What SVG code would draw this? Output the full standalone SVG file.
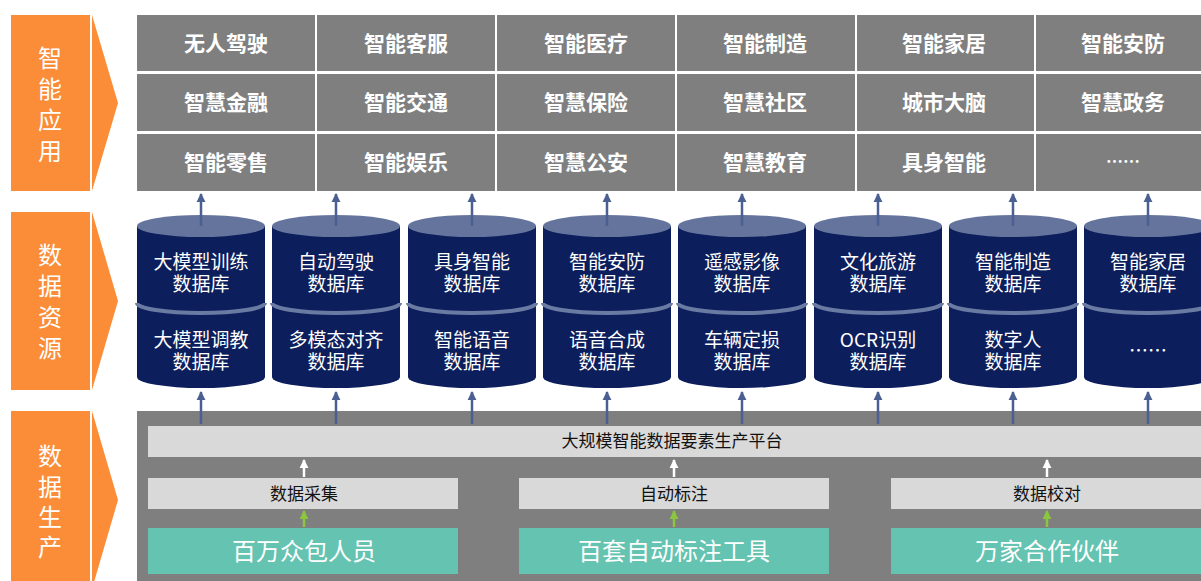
<svg xmlns="http://www.w3.org/2000/svg" width="1201" height="581" viewBox="0 0 1201 581">
<defs>
<style>
.chev{fill:#fb8c38}
.sep{stroke:#fff;stroke-width:2}
.ctx{font-family:"Noto Sans CJK SC",sans-serif;font-size:24px;fill:#fff;text-anchor:middle}
.cell{fill:#7f7f7f}
.gtx{font-family:"Noto Sans CJK SC",sans-serif;font-size:21px;font-weight:bold;fill:#fff;text-anchor:middle}
.body{fill:#0c1e5b}
.top{fill:#64749c}
.band{fill:none;stroke:#6a7ba3;stroke-width:4}
.dtx{font-family:"Noto Sans CJK SC",sans-serif;font-size:19px;fill:#fff;text-anchor:middle}
.bar{fill:#d9d9d9}
.btx{font-family:"Noto Sans CJK SC",sans-serif;font-size:17px;fill:#111;text-anchor:middle}
.teal{fill:#65c3b1}
.ttx{font-family:"Noto Sans CJK SC",sans-serif;font-size:24px;fill:#fff;text-anchor:middle}
.blue{stroke:#4b5f92;stroke-width:2.5;fill:none}
.white{stroke:#fff;stroke-width:2.5;fill:none}
.green{stroke:#8cc63f;stroke-width:2.5;fill:none}
</style>
<marker id="ab" viewBox="0 0 10 10" refX="9" refY="5" markerWidth="3.6" markerHeight="4" orient="auto" markerUnits="strokeWidth"><path d="M0,0 L10,5 L0,10 Z" fill="#4b5f92"/></marker>
<marker id="aw" viewBox="0 0 10 10" refX="9" refY="5" markerWidth="3.6" markerHeight="4" orient="auto" markerUnits="strokeWidth"><path d="M0,0 L10,5 L0,10 Z" fill="#fff"/></marker>
<marker id="ag" viewBox="0 0 10 10" refX="9" refY="5" markerWidth="3.6" markerHeight="4" orient="auto" markerUnits="strokeWidth"><path d="M0,0 L10,5 L0,10 Z" fill="#8cc63f"/></marker>
</defs>
<rect width="1201" height="581" fill="#fff"/>

<g id="chevron-app">
<polygon class="chev" points="11,15 92,15 118,103 92,191 11,191"/>
<line class="sep" x1="91" y1="15" x2="91" y2="191"/>
<text class="ctx" x="50" y="67">智</text>
<text class="ctx" x="50" y="98">能</text>
<text class="ctx" x="50" y="129">应</text>
<text class="ctx" x="50" y="160">用</text>
</g>
<g id="chevron-data">
<polygon class="chev" points="11,212 92,212 118,301 92,390 11,390"/>
<line class="sep" x1="91" y1="212" x2="91" y2="390"/>
<text class="ctx" x="50" y="264">数</text>
<text class="ctx" x="50" y="295">据</text>
<text class="ctx" x="50" y="326">资</text>
<text class="ctx" x="50" y="357">源</text>
</g>
<g id="chevron-prod">
<polygon class="chev" points="11,411 92,411 118,500 92,589 11,589"/>
<line class="sep" x1="91" y1="411" x2="91" y2="581"/>
<text class="ctx" x="50" y="465">数</text>
<text class="ctx" x="50" y="496">据</text>
<text class="ctx" x="50" y="526">生</text>
<text class="ctx" x="50" y="556">产</text>
</g>

<g id="app-grid">
<g id="r1">
<rect class="cell" x="137" y="15" width="178" height="56"/><text class="gtx" x="226" y="51">无人驾驶</text>
<rect class="cell" x="317" y="15" width="178" height="56"/><text class="gtx" x="406" y="51">智能客服</text>
<rect class="cell" x="497" y="15" width="178" height="56"/><text class="gtx" x="586" y="51">智能医疗</text>
<rect class="cell" x="677" y="15" width="178" height="56"/><text class="gtx" x="765" y="51">智能制造</text>
<rect class="cell" x="857" y="15" width="177" height="56"/><text class="gtx" x="944" y="51">智能家居</text>
<rect class="cell" x="1036" y="15" width="170" height="56"/><text class="gtx" x="1123" y="51">智能安防</text>
</g>
<g id="r2">
<rect class="cell" x="137" y="74" width="178" height="57"/><text class="gtx" x="226" y="110">智慧金融</text>
<rect class="cell" x="317" y="74" width="178" height="57"/><text class="gtx" x="406" y="110">智能交通</text>
<rect class="cell" x="497" y="74" width="178" height="57"/><text class="gtx" x="586" y="110">智慧保险</text>
<rect class="cell" x="677" y="74" width="178" height="57"/><text class="gtx" x="765" y="110">智慧社区</text>
<rect class="cell" x="857" y="74" width="177" height="57"/><text class="gtx" x="944" y="110">城市大脑</text>
<rect class="cell" x="1036" y="74" width="170" height="57"/><text class="gtx" x="1123" y="110">智慧政务</text>
</g>
<g id="r3">
<rect class="cell" x="137" y="134" width="178" height="57"/><text class="gtx" x="226" y="170">智能零售</text>
<rect class="cell" x="317" y="134" width="178" height="57"/><text class="gtx" x="406" y="170">智能娱乐</text>
<rect class="cell" x="497" y="134" width="178" height="57"/><text class="gtx" x="586" y="170">智慧公安</text>
<rect class="cell" x="677" y="134" width="178" height="57"/><text class="gtx" x="765" y="170">智慧教育</text>
<rect class="cell" x="857" y="134" width="177" height="57"/><text class="gtx" x="944" y="170">具身智能</text>
<rect class="cell" x="1036" y="134" width="170" height="57"/><text class="gtx" x="1123" y="168" style="font-size:17px">……</text>
</g>
</g>

<g id="prod-panel">
<rect x="137" y="411" width="1070" height="175" fill="#7f7f7f"/>
<rect class="bar" x="148" y="426" width="1060" height="31"/>
<text class="btx" x="672" y="447">大规模智能数据要素生产平台</text>
<g id="collect"><rect class="bar" x="148" y="478" width="310" height="31"/><text class="btx" x="304" y="500">数据采集</text></g>
<g id="label"><rect class="bar" x="519" y="478" width="310" height="31"/><text class="btx" x="674" y="500">自动标注</text></g>
<g id="check"><rect class="bar" x="891" y="478" width="315" height="31"/><text class="btx" x="1047" y="500">数据校对</text></g>
<g id="crowd"><rect class="teal" x="148" y="528" width="310" height="46"/><text class="ttx" x="304" y="560">百万众包人员</text></g>
<g id="tools"><rect class="teal" x="519" y="528" width="310" height="46"/><text class="ttx" x="674" y="560">百套自动标注工具</text></g>
<g id="partners"><rect class="teal" x="891" y="528" width="315" height="46"/><text class="ttx" x="1047" y="560">万家合作伙伴</text></g>
</g>

<g id="databases">
<g id="db1" transform="translate(201,0)">
<path class="body" d="M-64,226 V377 A64,11 0 0 0 64,377 V226 Z"/><ellipse class="top" cx="0" cy="226" rx="64" ry="11"/>
<path class="band" d="M-64,303 A64,10 0 0 0 64,303"/>
<text class="dtx" x="0" y="269">大模型训练<tspan x="0" dy="22">数据库</tspan></text>
<text class="dtx" x="0" y="347">大模型调教<tspan x="0" dy="22">数据库</tspan></text>
</g>
<g id="db2" transform="translate(336,0)">
<path class="body" d="M-64,226 V377 A64,11 0 0 0 64,377 V226 Z"/><ellipse class="top" cx="0" cy="226" rx="64" ry="11"/>
<path class="band" d="M-64,303 A64,10 0 0 0 64,303"/>
<text class="dtx" x="0" y="269">自动驾驶<tspan x="0" dy="22">数据库</tspan></text>
<text class="dtx" x="0" y="347">多模态对齐<tspan x="0" dy="22">数据库</tspan></text>
</g>
<g id="db3" transform="translate(472,0)">
<path class="body" d="M-64,226 V377 A64,11 0 0 0 64,377 V226 Z"/><ellipse class="top" cx="0" cy="226" rx="64" ry="11"/>
<path class="band" d="M-64,303 A64,10 0 0 0 64,303"/>
<text class="dtx" x="0" y="269">具身智能<tspan x="0" dy="22">数据库</tspan></text>
<text class="dtx" x="0" y="347">智能语音<tspan x="0" dy="22">数据库</tspan></text>
</g>
<g id="db4" transform="translate(607,0)">
<path class="body" d="M-64,226 V377 A64,11 0 0 0 64,377 V226 Z"/><ellipse class="top" cx="0" cy="226" rx="64" ry="11"/>
<path class="band" d="M-64,303 A64,10 0 0 0 64,303"/>
<text class="dtx" x="0" y="269">智能安防<tspan x="0" dy="22">数据库</tspan></text>
<text class="dtx" x="0" y="347">语音合成<tspan x="0" dy="22">数据库</tspan></text>
</g>
<g id="db5" transform="translate(742,0)">
<path class="body" d="M-64,226 V377 A64,11 0 0 0 64,377 V226 Z"/><ellipse class="top" cx="0" cy="226" rx="64" ry="11"/>
<path class="band" d="M-64,303 A64,10 0 0 0 64,303"/>
<text class="dtx" x="0" y="269">遥感影像<tspan x="0" dy="22">数据库</tspan></text>
<text class="dtx" x="0" y="347">车辆定损<tspan x="0" dy="22">数据库</tspan></text>
</g>
<g id="db6" transform="translate(878,0)">
<path class="body" d="M-64,226 V377 A64,11 0 0 0 64,377 V226 Z"/><ellipse class="top" cx="0" cy="226" rx="64" ry="11"/>
<path class="band" d="M-64,303 A64,10 0 0 0 64,303"/>
<text class="dtx" x="0" y="269">文化旅游<tspan x="0" dy="22">数据库</tspan></text>
<text class="dtx" x="0" y="347">OCR识别<tspan x="0" dy="22">数据库</tspan></text>
</g>
<g id="db7" transform="translate(1013,0)">
<path class="body" d="M-64,226 V377 A64,11 0 0 0 64,377 V226 Z"/><ellipse class="top" cx="0" cy="226" rx="64" ry="11"/>
<path class="band" d="M-64,303 A64,10 0 0 0 64,303"/>
<text class="dtx" x="0" y="269">智能制造<tspan x="0" dy="22">数据库</tspan></text>
<text class="dtx" x="0" y="347">数字人<tspan x="0" dy="22">数据库</tspan></text>
</g>
<g id="db8" transform="translate(1148,0)">
<path class="body" d="M-64,226 V377 A64,11 0 0 0 64,377 V226 Z"/><ellipse class="top" cx="0" cy="226" rx="64" ry="11"/>
<path class="band" d="M-64,303 A64,10 0 0 0 64,303"/>
<text class="dtx" x="0" y="269">智能家居<tspan x="0" dy="22">数据库</tspan></text>
<text class="dtx" x="0" y="358">……</text>
</g>
</g>

<g id="connectors">
<g class="blue" marker-end="url(#ab)">
<line x1="201" y1="226" x2="201" y2="194"/><line x1="336" y1="226" x2="336" y2="194"/><line x1="472" y1="226" x2="472" y2="194"/><line x1="607" y1="226" x2="607" y2="194"/>
<line x1="742" y1="226" x2="742" y2="194"/><line x1="878" y1="226" x2="878" y2="194"/><line x1="1013" y1="226" x2="1013" y2="194"/><line x1="1148" y1="226" x2="1148" y2="194"/>
<line x1="201" y1="424" x2="201" y2="392"/><line x1="336" y1="424" x2="336" y2="392"/><line x1="472" y1="424" x2="472" y2="392"/><line x1="607" y1="424" x2="607" y2="392"/>
<line x1="742" y1="424" x2="742" y2="392"/><line x1="878" y1="424" x2="878" y2="392"/><line x1="1013" y1="424" x2="1013" y2="392"/><line x1="1148" y1="424" x2="1148" y2="392"/>
</g>
<g class="white" marker-end="url(#aw)">
<line x1="304" y1="477" x2="304" y2="460"/><line x1="674" y1="477" x2="674" y2="460"/><line x1="1047" y1="477" x2="1047" y2="460"/>
</g>
<g class="green" marker-end="url(#ag)">
<line x1="304" y1="527" x2="304" y2="511"/><line x1="674" y1="527" x2="674" y2="511"/><line x1="1047" y1="527" x2="1047" y2="511"/>
</g>
</g>
</svg>
